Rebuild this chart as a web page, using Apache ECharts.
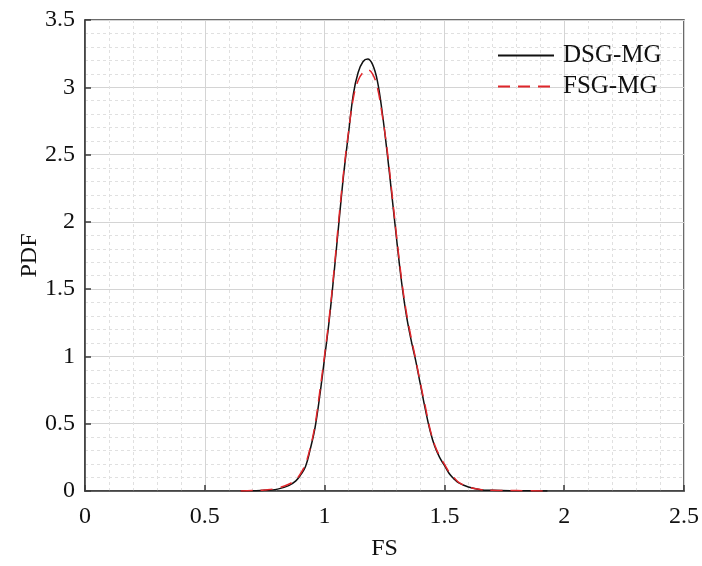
<!DOCTYPE html>
<html>
<head>
<meta charset="utf-8">
<script src="https://cdn.jsdelivr.net/npm/echarts@6/dist/echarts.min.js"></script>
<style>html,body{margin:0;padding:0;background:#fff;}#c{width:702px;height:566px;}</style>
</head>
<body>
<div id="c"></div>
<script>
const seriesNames = ['DSG-MG', 'FSG-MG'];
const xValues = [0.65,0.70,0.75,0.80,0.85,0.88,0.90,0.92,0.94,0.96,0.98,1.00,1.02,1.04,1.06,1.08,1.10,1.12,1.14,1.16,1.18,1.20,1.22,1.24,1.26,1.28,1.30,1.32,1.34,1.36,1.38,1.40,1.42,1.44,1.46,1.48,1.50,1.52,1.54,1.56,1.60,1.65,1.70,1.80,1.93];
const dsgValues = [0,0.002,0.005,0.012,0.04,0.075,0.12,0.18,0.31,0.47,0.71,0.99,1.28,1.63,2.00,2.36,2.66,2.95,3.11,3.19,3.21,3.17,3.05,2.82,2.53,2.21,1.88,1.57,1.32,1.13,0.97,0.79,0.61,0.45,0.33,0.25,0.19,0.13,0.09,0.06,0.03,0.01,0.005,0.002,0];
const fsgValues = [0,0.003,0.008,0.02,0.05,0.085,0.13,0.20,0.32,0.49,0.74,1.01,1.30,1.65,2.03,2.38,2.67,2.92,3.05,3.11,3.13,3.10,3.00,2.80,2.55,2.23,1.90,1.59,1.34,1.15,0.98,0.80,0.63,0.46,0.34,0.26,0.20,0.14,0.10,0.065,0.03,0.012,0.006,0.003,0];
const xTicks = [0, 0.5, 1, 1.5, 2, 2.5];
const yTicks = [0, 0.5, 1, 1.5, 2, 2.5, 3, 3.5];

const font = '"Liberation Serif", "Times New Roman", serif';
const chart = echarts.init(document.getElementById('c'));
const axisCommon = {
  axisLine: {show: true, lineStyle: {color: '#3a3a3a', width: 1.5}},
  axisTick: {show: true, inside: true, length: 6, lineStyle: {color: '#3a3a3a', width: 1.5}},
  splitLine: {show: true, lineStyle: {color: '#d4d4d4', width: 1}},
  minorTick: {show: false, splitNumber: 5},
  minorSplitLine: {show: true, lineStyle: {color: '#e0e0e0', width: 1, type: [3, 3]}},
  nameTextStyle: {fontFamily: font, fontSize: 24, color: '#111'},
  axisLabel: {fontFamily: font, fontSize: 24, color: '#111'}
};
chart.setOption({
  animation: false,
  backgroundColor: '#fff',
  grid: {left: 85, right: 17, top: 20, bottom: 75, show: true, borderColor: '#3a3a3a', borderWidth: 1.5},
  legend: {
    orient: 'vertical', left: 492, top: 38, itemWidth: 56, itemHeight: 14, itemGap: 6,
    itemStyle: {opacity: 0},
    textStyle: {fontFamily: font, fontSize: 25, color: '#111', padding: [0, 0, 0, 4]},
    data: seriesNames
  },
  xAxis: Object.assign({}, axisCommon, {
    type: 'value', min: xTicks[0], max: xTicks[xTicks.length - 1], interval: 0.5,
    name: 'FS', nameLocation: 'middle', nameGap: 46, nameMoveOverlap: false,
    axisLabel: Object.assign({}, axisCommon.axisLabel, {margin: 14})
  }),
  yAxis: Object.assign({}, axisCommon, {
    type: 'value', min: yTicks[0], max: yTicks[yTicks.length - 1], interval: 0.5,
    name: 'PDF', nameLocation: 'middle', nameGap: 43, nameMoveOverlap: false,
    axisLabel: Object.assign({}, axisCommon.axisLabel, {margin: 10})
  }),
  series: [
    {name: seriesNames[0], type: 'line', smooth: 0.4, symbol: 'none',
     data: xValues.map((x, i) => [x, dsgValues[i]]),
     lineStyle: {color: '#111', width: 1.5}, itemStyle: {color: '#111'}, z: 2},
    {name: seriesNames[1], type: 'line', smooth: 0.4, symbol: 'none',
     data: xValues.map((x, i) => [x, fsgValues[i]]),
     lineStyle: {color: '#e0262b', width: 1.5, type: [12, 8]}, itemStyle: {color: '#e0262b'}, z: 3}
  ]
});
</script>
</body>
</html>
